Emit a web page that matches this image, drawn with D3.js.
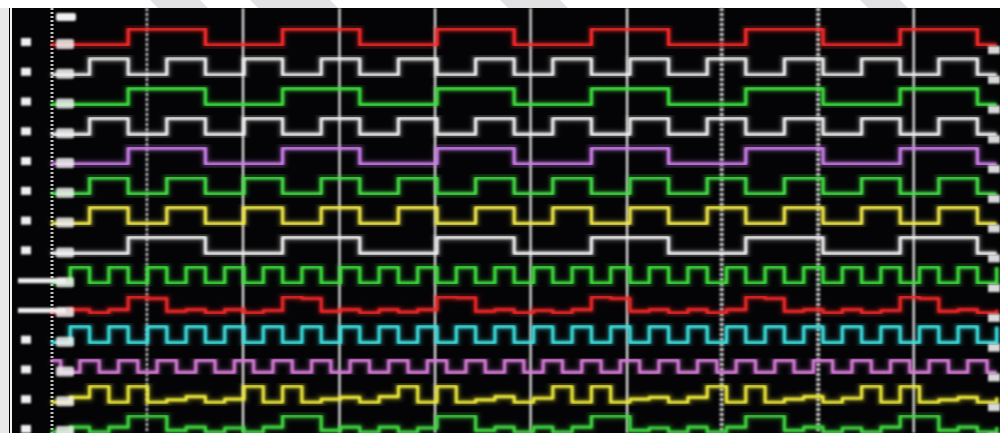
<!DOCTYPE html>
<html>
<head>
<meta charset="utf-8">
<script src="https://cdn.jsdelivr.net/npm/d3@7"></script>
<style>
  html, body { margin: 0; padding: 0; background: #fff; overflow: hidden; }
</style>
</head>
<body>
<svg id="chart" width="1000" height="433"></svg>
<script>
// channel names, top to bottom
const channels = ["CH1", "CH2", "CH3", "CH4", "CH5", "CH6", "CH7",
                  "CH8", "CH9", "CH10", "CH11", "CH12", "CH13", "CH14"];

// sample instants (one per fastest half-clock)
const sampleTimes = [0, 1, 2, 3, 4, 5, 6, 7, 8, 9, 10, 11, 12, 13, 14, 15, 16, 17, 18, 19,
                     20, 21, 22, 23, 24, 25, 26, 27, 28, 29, 30, 31, 32, 33, 34, 35, 36, 37, 38, 39,
                     40, 41, 42, 43, 44, 45, 46, 47, 48, 49];

// cursor positions (same time units)
const cursorTimes = [4.97, 9.95, 14.95, 19.9, 24.85, 29.85, 34.75, 39.75, 44.7];

// logic levels per channel (0 = low, 1 = high)
const ch1  = [0,0,0,0,1,1,1,1, 0,0,0,0,1,1,1,1, 0,0,0,0,1,1,1,1, 0,0,0,0,1,1,1,1, 0,0,0,0,1,1,1,1, 0,0,0,0,1,1,1,1, 0,0];
const ch2  = [0,0,1,1,0,0,1,1, 0,0,1,1,0,0,1,1, 0,0,1,1,0,0,1,1, 0,0,1,1,0,0,1,1, 0,0,1,1,0,0,1,1, 0,0,1,1,0,0,1,1, 0,0];
const ch3  = [0,0,0,0,1,1,1,1, 0,0,0,0,1,1,1,1, 0,0,0,0,1,1,1,1, 0,0,0,0,1,1,1,1, 0,0,0,0,1,1,1,1, 0,0,0,0,1,1,1,1, 0,0];
const ch4  = [0,0,1,1,0,0,1,1, 0,0,1,1,0,0,1,1, 0,0,1,1,0,0,1,1, 0,0,1,1,0,0,1,1, 0,0,1,1,0,0,1,1, 0,0,1,1,0,0,1,1, 0,0];
const ch5  = [0,0,0,0,1,1,1,1, 0,0,0,0,1,1,1,1, 0,0,0,0,1,1,1,1, 0,0,0,0,1,1,1,1, 0,0,0,0,1,1,1,1, 0,0,0,0,1,1,1,1, 0,0];
const ch6  = [0,0,1,1,0,0,1,1, 0,0,1,1,0,0,1,1, 0,0,1,1,0,0,1,1, 0,0,1,1,0,0,1,1, 0,0,1,1,0,0,1,1, 0,0,1,1,0,0,1,1, 0,0];
const ch7  = [0,0,1,1,0,0,1,1, 0,0,1,1,0,0,1,1, 0,0,1,1,0,0,1,1, 0,0,1,1,0,0,1,1, 0,0,1,1,0,0,1,1, 0,0,1,1,0,0,1,1, 0,0];
const ch8  = [0,0,0,0,1,1,1,1, 0,0,0,0,1,1,1,1, 0,0,0,0,1,1,1,1, 0,0,0,0,1,1,1,1, 0,0,0,0,1,1,1,1, 0,0,0,0,1,1,1,1, 0,0];
const ch9  = [0,1,0,1,0,1,0,1, 0,1,0,1,0,1,0,1, 0,1,0,1,0,1,0,1, 0,1,0,1,0,1,0,1, 0,1,0,1,0,1,0,1, 0,1,0,1,0,1,0,1, 0,1];
const ch10 = [0,0.2,0,0.2,1,0.9,0.1,0.2, 0,0.2,0,0.15,1,0.9,0.1,0.2, 0,0.2,0.05,0.2,1,0.95,0.1,0.2, 0,0.15,0,0.2,1,0.9,0.1,0.2,
              0,0.2,0,0.2,1,0.9,0.1,0.2, 0,0.2,0,0.15,1,0.9,0.1,0.2, 0,0.2];
const ch11 = [0,1,0,1,0,1,0,1, 0,1,0,1,0,1,0,1, 0,1,0,1,0,1,0,1, 0,1,0,1,0,1,0,1, 0,1,0,1,0,1,0,1, 0,1,0,1,0,1,0,1, 0,1];
const ch12 = [0.75,0,0.75,0,0.75,0,0.75,0, 0.75,0,0.75,0,0.75,0,0.75,0, 0.75,0,0.75,0,0.75,0,0.75,0, 0.75,0,0.75,0,0.75,0,0.75,0,
              0.75,0,0.75,0,0.75,0,0.75,0, 0.75,0,0.75,0,0.75,0,0.75,0, 0.75,0];
const ch13 = [0,0.3,1,0,1,0,0.15,0.35, 0,0.2,1,0,1,0,0.2,0.3, 0,0.35,1,0,1,0,0.15,0.35, 0,0.25,1,0,1,0,0.2,0.3,
              0,0.3,1,0,1,0,0.2,0.35, 0,0.25,1,0,1,0,0.15,0.3, 0,0.3];
const ch14 = [0,0.3,0,0.3,1,1,0.1,0.3, 0,0.25,0,0.3,1,1,0.1,0.3, 0,0.3,0,0.25,1,1,0.1,0.3, 0,0.3,0,0.3,1,1,0.1,0.25,
              0,0.3,0,0.3,1,1,0.1,0.3, 0,0.25,0,0.3,1,1,0.1,0.3, 0,0.3];

const levels = [ch1, ch2, ch3, ch4, ch5, ch6, ch7, ch8, ch9, ch10, ch11, ch12, ch13, ch14];

// trace colours
const traceColors = ["#ff2a2a", "#f0f0f0", "#3ee03e", "#eeeeee", "#cf7ff0", "#45e045", "#f2ea4a",
                     "#f0f0f0", "#3ee03e", "#f02828", "#3ce0e0", "#d77ad8", "#eeea3a", "#40d840"];

// ---------------------------------------------------------------
const svg = d3.select("#chart");
const width = 1000;
const height = 433;
const plotTop = 8;
const plotLeft = 9;

const x = d3.scaleLinear().domain([0, 49]).range([51, 996.7]);
const y = d3.scalePoint().domain(channels).range([45, 432]);
const amp = d3.scaleLinear().domain([0, 1]).range([0, 16]);

const defs = svg.append("defs");
defs.append("filter").attr("id", "soft")
  .attr("x", "-5%").attr("y", "-5%").attr("width", "110%").attr("height", "110%")
  .append("feGaussianBlur").attr("stdDeviation", 0.8);
defs.append("filter").attr("id", "haze")
  .attr("x", "-5%").attr("y", "-20%").attr("width", "110%").attr("height", "140%")
  .append("feGaussianBlur").attr("stdDeviation", 2);

// page + screen
svg.append("rect").attr("width", width).attr("height", height).attr("fill", "#ffffff");
svg.append("rect").attr("x", 0).attr("y", plotTop).attr("width", plotLeft).attr("height", height - plotTop)
  .attr("fill", "#e9e9e9");
svg.append("rect").attr("x", plotLeft).attr("y", plotTop)
  .attr("width", width - plotLeft).attr("height", height - plotTop)
  .attr("fill", "#040406");

// faint watermark bands in the top margin
const wm = svg.append("g").attr("fill", "#e2e2e2");
[[150, 200], [250, 330], [500, 560], [860, 900]].forEach(([a, b]) => {
  wm.append("polygon").attr("points", `${a},0 ${b},0 ${b + 8},${plotTop} ${a + 8},${plotTop}`);
});

// left frame line and dotted label divider
svg.append("line").attr("x1", 11).attr("x2", 11).attr("y1", plotTop).attr("y2", height)
  .attr("stroke", "#f2f2f2").attr("stroke-width", 2);
svg.append("line").attr("x1", 52).attr("x2", 52).attr("y1", plotTop).attr("y2", height)
  .attr("stroke", "#bdbdbd").attr("stroke-width", 3).attr("stroke-dasharray", "2,2");

// cursors
const cursors = svg.append("g").attr("filter", "url(#soft)");
cursorTimes.forEach((t, i) => {
  const dotted = i === 0 || i === 6 || i === 7;
  cursors.append("line")
    .attr("x1", x(t)).attr("x2", x(t))
    .attr("y1", plotTop).attr("y2", height)
    .attr("stroke", dotted ? "#d8d8d8" : "#eeeeee")
    .attr("stroke-width", dotted ? (i === 0 ? 2.5 : 4) : 2.2)
    .attr("stroke-dasharray", dotted ? "3,2" : null);
});

// waveforms
const traces = svg.append("g");
channels.forEach((ch, i) => {
  const pts = sampleTimes.map((t, k) => ({ t: t, v: levels[i][k] }));
  const line = d3.line()
    .x(d => x(d.t))
    .y(d => y(ch) - amp(d.v))
    .curve(ch === "CH12" ? d3.curveStep : d3.curveStepAfter);

  traces.append("path")
    .attr("d", line(pts))
    .attr("fill", "none")
    .attr("stroke", traceColors[i])
    .attr("stroke-width", 7)
    .attr("stroke-opacity", 0.3)
    .attr("filter", "url(#haze)");

  traces.append("path")
    .attr("d", line(pts))
    .attr("fill", "none")
    .attr("stroke", traceColors[i])
    .attr("stroke-width", 3.2)
    .attr("stroke-linejoin", "round")
    .attr("filter", "url(#soft)");
});

// channel markers on the left, label blobs and right-hand markers
const marks = svg.append("g").attr("fill", "#f0f0f0").attr("filter", "url(#soft)");
channels.forEach(ch => {
  if (ch === "CH9" || ch === "CH10") {
    marks.append("rect").attr("x", 18).attr("y", y(ch) - 5).attr("width", 48).attr("height", 5);
  } else {
    marks.append("rect").attr("x", 21).attr("y", y(ch) - 7).attr("width", 10).attr("height", 8);
  }
  marks.append("rect").attr("x", 56).attr("y", y(ch) - 6).attr("width", 18).attr("height", 10)
    .attr("rx", 2).attr("opacity", 0.85);
  marks.append("rect").attr("x", 988).attr("y", y(ch) + 1).attr("width", 12).attr("height", 8)
    .attr("opacity", 0.9);
});
marks.append("rect").attr("x", 56).attr("y", 13).attr("width", 20).attr("height", 8).attr("rx", 2);
</script>
</body>
</html>
